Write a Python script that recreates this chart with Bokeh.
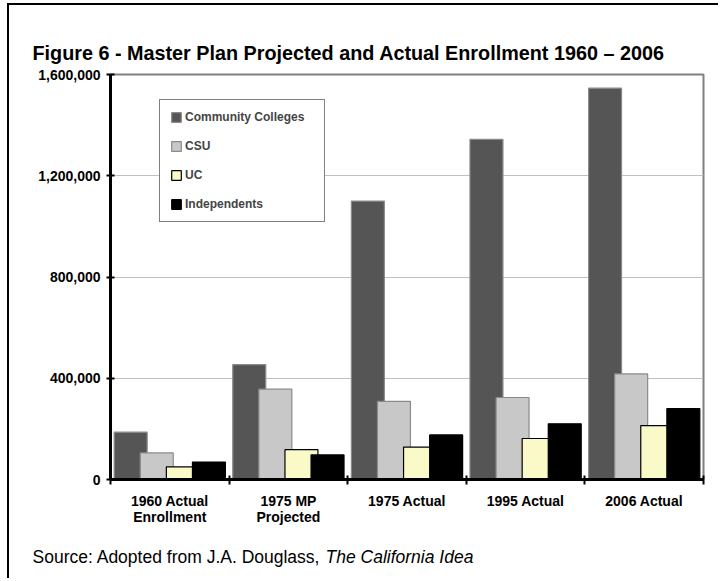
import numpy as np
from bokeh.plotting import figure
from bokeh.models import (Range1d, FixedTicker, NumeralTickFormatter, Label,
                          ColumnDataSource)
from bokeh.embed import file_html
from bokeh.resources import INLINE

# ---------------- data ----------------
categories = ["1960 Actual\nEnrollment", "1975 MP\nProjected", "1975 Actual",
              "1995 Actual", "2006 Actual"]
community_colleges = [187000, 454000, 1100000, 1344000, 1546000]
csu = [105000, 357000, 309000, 324000, 417000]
uc = [50000, 118000, 128000, 162000, 213000]
independents = [69000, 97000, 176000, 220000, 280000]
series_names = ["Community Colleges", "CSU", "UC", "Independents"]
y_ticks = [0, 400000, 800000, 1200000, 1600000]
title_text = "Figure 6 - Master Plan Projected and Actual Enrollment 1960 \u2013 2006"
source_text = "Source: Adopted from J.A. Douglass, "
source_title = "The California Idea"

# ---------------- styles ----------------
fills = ["#555555", "#c8c8c8", "#fafac8", "#000000"]
outlines = ["#8a8a8a", "#8a8a8a", "#000000", "#000000"]
offsets = [-0.33, -0.11, 0.11, 0.33]
bar_width = 0.278
FONT = "Liberation Sans"
OX, OY = 9, 5            # canvas origin on the page (margin + border)
W, H = 720 - OX, 580 - OY

p = figure(width=W, height=H,
           x_range=Range1d(0, len(categories)), y_range=Range1d(0, 1600000),
           output_backend="svg", toolbar_location=None,
           min_border_left=110 - OX, min_border_right=17,
           min_border_top=74 - OY, min_border_bottom=101)
p.styles = {"margin-left": "7px", "margin-top": "3px",
            "border-left": "2px solid black", "border-top": "2px solid black"}
p.background_fill_color = "white"
p.border_fill_color = "white"
p.outline_line_color = "#808080"
p.outline_line_width = 2

centers = np.arange(len(categories)) + 0.5
values = [community_colleges, csu, uc, independents]
for name, vals, fc, lc, off in zip(series_names, values, fills, outlines, offsets):
    src = ColumnDataSource(dict(x=centers + off, top=vals))
    p.vbar(x="x", top="top", bottom=0, width=bar_width, source=src,
           fill_color=fc, line_color=lc, line_width=1.2, legend_label=name)

# ---------------- axes ----------------
p.xgrid.visible = False
p.ygrid.grid_line_color = "#c0c0c0"
p.ygrid.grid_line_width = 1

yax = p.yaxis[0]
yax.ticker = FixedTicker(ticks=y_ticks)
yax.formatter = NumeralTickFormatter(format="0,0")
yax.axis_line_color = "black"
yax.axis_line_width = 3
yax.major_tick_in = 4
yax.major_tick_out = 4
yax.major_tick_line_width = 2
yax.major_tick_line_color = "black"
yax.minor_tick_line_color = None
yax.major_label_text_font = FONT
yax.major_label_text_font_style = "bold"
yax.major_label_text_font_size = "14px"
yax.major_label_text_color = "black"
yax.major_label_standoff = 6

xax = p.xaxis[0]
xax.ticker = FixedTicker(ticks=list(centers),
                         minor_ticks=list(range(len(categories) + 1)))
xax.major_label_overrides = {float(c): lab for c, lab in zip(centers, categories)}
xax.axis_line_color = "black"
xax.axis_line_width = 3
xax.major_tick_line_color = None
xax.major_tick_in = 0
xax.major_tick_out = 0
xax.minor_tick_in = 4
xax.minor_tick_out = 5
xax.minor_tick_line_width = 2
xax.minor_tick_line_color = "black"
xax.major_label_text_font = FONT
xax.major_label_text_font_style = "bold"
xax.major_label_text_font_size = "14px"
xax.major_label_text_line_height = 1.0
xax.major_label_text_color = "black"
xax.major_label_standoff = 8

# ---------------- legend ----------------
lg = p.legend[0]
lg.location = (49, 257)
lg.padding = 10
lg.spacing = 15
lg.margin = 0
lg.label_height = 14
lg.glyph_height = 12
lg.glyph_width = 12
lg.label_standoff = 3
lg.label_width = 129
lg.label_text_font = FONT
lg.label_text_font_style = "bold"
lg.label_text_font_size = "12px"
lg.border_line_color = "black"
lg.border_line_width = 1
lg.background_fill_color = "white"
lg.background_fill_alpha = 1

# ---------------- title and source (canvas units, in side panels) ----------------
U = "canvas"
p.add_layout(Label(x=30 - OX, y=50 - OY, x_units=U, y_units=U, text=title_text,
                   text_font=FONT, text_font_style="bold", text_font_size="19.8px",
                   text_color="black", text_baseline="alphabetic"), "above")
p.add_layout(Label(x=323 - OX, y=554 - OY, x_units=U, y_units=U, text=source_title,
                   text_font=FONT, text_font_style="italic", text_font_size="17.5px",
                   text_color="black", text_baseline="alphabetic"), "above")
p.add_layout(Label(x=30 - OX, y=554 - OY, x_units=U, y_units=U, text=source_text,
                   text_font=FONT, text_font_size="17.5px",
                   text_color="black", text_baseline="alphabetic"), "below")

open("out.html", "w").write(file_html(p, INLINE))
